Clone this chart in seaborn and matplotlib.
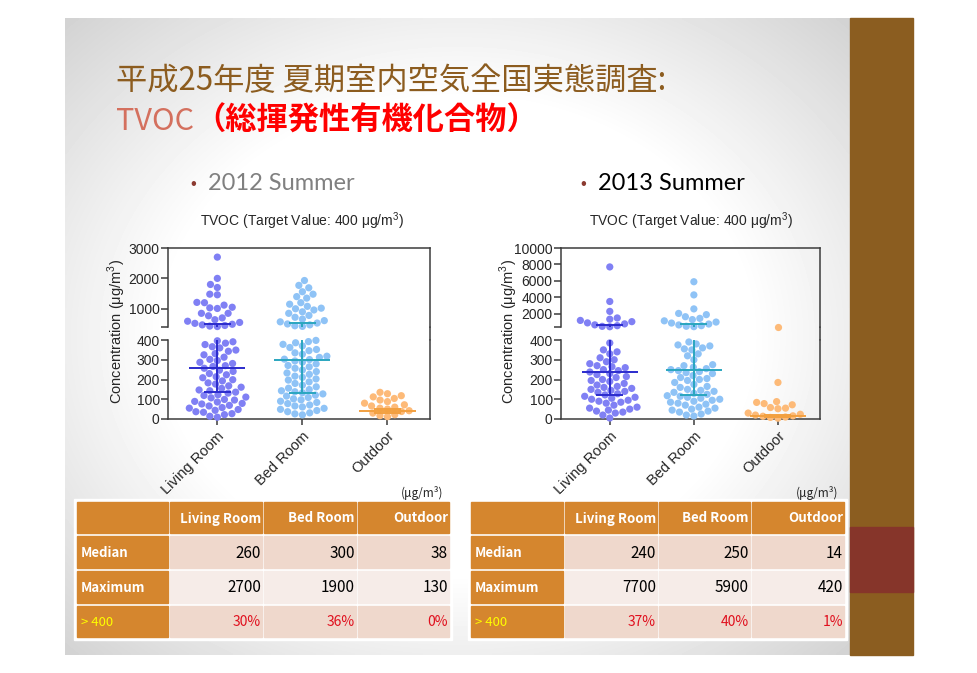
'''
Summer TVOC survey slide: swarm plots with a broken y axis and the summary tables.
'''

import numpy as np
import pandas as pd
import seaborn as sns
import matplotlib.pyplot as plt
from matplotlib.patches import Rectangle
from matplotlib.lines import Line2D

W, H = 978, 673

rooms = ['Living Room', 'Bed Room', 'Outdoor']

living_2012 = [2700, 2000, 1800, 1700, 1480, 1460, 1210, 1120, 1200, 1050, 1010, 1030, 850, 770, 850,
               700, 640, 590, 550, 520, 490, 470, 450, 430, 415,
               396, 391, 384, 377, 366, 360, 349, 343, 331, 325, 313, 302, 296, 287, 281, 270, 266,
               257, 247, 241, 230, 224, 214, 209, 199, 193, 183, 177, 168, 161, 155, 147, 143, 136,
               131, 123, 119, 111, 107, 99, 96, 89, 86, 79, 76, 69, 66, 58, 55, 48, 44, 37, 34,
               27, 22, 14, 9]
bed_2012 = [1930, 1770, 1690, 1560, 1480, 1400, 1350, 1200, 1150, 1080, 1020, 1000, 960, 900, 850,
            780, 720, 660, 610, 570, 530, 500, 470, 440, 420,
            398, 392, 386, 378, 370, 362, 352, 346, 335, 328, 318, 312, 303, 301,
            294, 288, 279, 271, 264, 257, 248, 240, 233, 226, 217, 211, 203, 197, 188, 180, 171,
            163, 156, 149, 143, 138, 133,
            127, 121, 116, 109, 102, 97, 90, 84, 78, 71, 66, 61, 54, 49, 43, 37, 31, 26, 21]
outdoor_2012 = [135, 128, 118, 112, 104, 96, 88, 80, 72, 66, 60, 55, 50, 42, 38, 30, 22, 17, 12]

# 2013 summer
living_2013 = [7700, 3500, 2300, 1500, 1350, 1200, 1050, 900, 780, 660, 560, 480, 430,
               385, 350, 340, 330, 310, 300, 290, 280, 270, 265, 260, 250, 245, 238, 230, 225, 215,
               210, 200, 195, 190, 180, 172, 165, 160, 155, 150, 145, 140, 135, 128, 122, 115, 110,
               105, 100, 95, 90, 85, 80, 70, 60, 55, 50, 45, 40, 35, 30, 20, 5]
bed_2013 = [5900, 4300, 2600, 2050, 1900, 1650, 1450, 1300, 1150, 1000, 880, 760, 650, 560, 490, 440,
            390, 380, 375, 370, 360, 355, 350, 330, 320, 300, 275, 270, 262, 255, 250, 245, 240,
            235, 230, 220, 210, 205, 200, 195, 185, 175, 165, 160, 150, 145, 140, 135, 130, 125,
            118, 115, 110, 105, 100, 95, 90, 85, 80, 75, 70, 60, 55, 50, 45, 40, 35, 25, 20, 15]
outdoor_2013 = [420, 185, 88, 84, 78, 72, 58, 55, 52, 30, 24, 20, 16, 14, 10, 8, 4]

# median with interquartile range
median_2012 = [260, 300, 38]
q1_2012 = [135, 130, 30]
q3_2012 = [500, 540, 52]
median_2013 = [240, 250, 14]
q1_2013 = [120, 120, 8]
q3_2013 = [600, 780, 22]

# summary tables
table_rows = ['Median', 'Maximum', '> 400']
table_2012 = [['260', '300', '38'], ['2700', '1900', '130'], ['30%', '36%', '0%']]
table_2013 = [['240', '250', '14'], ['7700', '5900', '420'], ['37%', '40%', '1%']]

dot_colors = {'Living Room': '#8080f4', 'Bed Room': '#8fc3f6', 'Outdoor': '#fdba78'}
line_colors = {'Living Room': '#2b2bcc', 'Bed Room': '#2aa6bf', 'Outdoor': '#f2a040'}
spine_color = '#3c3c3c'
cjk = ['Noto Sans CJK JP', 'DejaVu Sans']


def px_rect(x0, y0, x1, y1):
    return [x0 / W, 1 - y1 / H, (x1 - x0) / W, (y1 - y0) / H]


def plot_tvoc(fig, x0, x1, values, top_max, top_ticks, medians, lower_q, upper_q):
    ax_hi = fig.add_axes(px_rect(x0, 248, x1, 327))
    ax_lo = fig.add_axes(px_rect(x0, 340, x1, 419))
    df = pd.DataFrame({'room': np.repeat(rooms, [len(v) for v in values]),
                       'value': np.concatenate(values).astype(float)})
    for ax, part in [(ax_hi, df[df['value'] > 400]), (ax_lo, df[df['value'] <= 400])]:
        sns.swarmplot(data=part, x='room', y='value', hue='room', order=rooms, hue_order=rooms,
                      palette=dot_colors, size=5.2, ax=ax, legend=False, warn_thresh=1,
                      clip_on=False)
        ax.set_xlim(-0.58, 2.5)
        ax.set(xlabel='', ylabel='')
        ax.set_facecolor('none')
        for side in ['left', 'right', 'top', 'bottom']:
            ax.spines[side].set_color(spine_color)
            ax.spines[side].set_linewidth(1.1)
        ax.tick_params(axis='both', direction='out', length=5, width=1.1, color=spine_color,
                       labelsize=10, pad=1)

    ax_hi.set_ylim(400, top_max)
    ax_hi.set_yticks([400] + top_ticks, labels=[''] + [str(t) for t in top_ticks])
    ax_hi.spines['bottom'].set_visible(False)
    ax_hi.tick_params(axis='x', length=0, labelbottom=False)

    ax_lo.set_ylim(0, 400)
    ax_lo.set_yticks([0, 100, 200, 300, 400])
    ax_lo.spines['top'].set_visible(False)
    ax_lo.set_xticks(range(3), labels=rooms, rotation=45, ha='right', rotation_mode='anchor')
    ax_lo.tick_params(axis='x', labelsize=10.5, length=4, pad=3)

    # right frame runs on across the break
    fig.add_artist(Line2D([x1 / W, x1 / W], [1 - 340 / H, 1 - 327 / H],
                          color=spine_color, lw=1.1))

    for i, room in enumerate(rooms):
        c = line_colors[room]
        ax_lo.hlines(medians[i], i - 0.33, i + 0.33, color=c, lw=1.4, zorder=5)
        ax_lo.hlines(lower_q[i], i - 0.16, i + 0.16, color=c, lw=1.4, zorder=5)
        if upper_q[i] > 400:
            ax_lo.vlines(i, lower_q[i], 400, color=c, lw=1.4, zorder=5)
            ax_hi.vlines(i, 400, upper_q[i], color=c, lw=1.4, zorder=5)
            ax_hi.hlines(upper_q[i], i - 0.16, i + 0.16, color=c, lw=1.4, zorder=5)
        else:
            ax_lo.vlines(i, lower_q[i], upper_q[i], color=c, lw=1.4, zorder=5)
            ax_lo.hlines(upper_q[i], i - 0.16, i + 0.16, color=c, lw=1.4, zorder=5)
    return ax_hi, ax_lo


def draw_table(ax, col_edges, cells, unit_x):
    row_edges = [(502, 533), (536, 568), (571, 603), (606, 637)]
    ax.add_patch(Rectangle((col_edges[0][0] - 3, 499), col_edges[-1][1] - col_edges[0][0] + 6,
                           141, color='white', zorder=1))
    ax.text(unit_x, 493, '(μg/m³)', fontsize=8.5, ha='right', va='center', family=cjk, zorder=3)
    fills = ['#efd8cc', '#f6ece8', '#efd8cc']
    for r, (y0, y1) in enumerate(row_edges):
        for c, (x0, x1) in enumerate(col_edges):
            if r == 0 or c == 0:
                fc = '#d5862e'
            else:
                fc = fills[r - 1]
            ax.add_patch(Rectangle((x0, y0), x1 - x0, y1 - y0, color=fc, zorder=2))
            ym = (y0 + y1) / 2 + 1
            if r == 0 and c > 0:
                ax.text(x1 - 1, ym, rooms[c - 1], color='white', fontsize=9.5, fontweight='bold',
                        ha='right', va='center', family=cjk, zorder=3)
            elif r > 0 and c == 0:
                label = table_rows[r - 1]
                ax.text(x0 + 4, ym, label, color='#ffff00' if r == 3 else 'white', fontsize=9.5,
                        fontweight='normal' if r == 3 else 'bold', ha='left', va='center',
                        family=cjk, zorder=3)
            elif r > 0:
                ax.text(x1 - 1, ym, cells[r - 1][c - 1], color='#e0101e' if r == 3 else 'black',
                        fontsize=11 if r < 3 else 10, ha='right', va='center', family=cjk, zorder=3)


sns.set_style('ticks')
plt.rcParams['font.family'] = ['Liberation Sans', 'DejaVu Sans']
plt.rcParams['mathtext.fontset'] = 'custom'
plt.rcParams['mathtext.rm'] = 'Liberation Sans'

fig = plt.figure(figsize=(W / 100, H / 100), dpi=100)
bg = fig.add_axes([0, 0, 1, 1])
bg.axis('off')

# slide with a soft grey vignette
yy, xx = np.mgrid[-1:1:200j, -1:1:250j]
rr = np.sqrt(xx ** 2 + yy ** 2)
shade = 1 - 0.17 * np.clip((rr - 0.75) / 0.65, 0, 1)
bg.imshow(shade, cmap='gray', vmin=0, vmax=1, extent=(65, 850, 655, 18), aspect='auto',
          interpolation='bilinear', zorder=0)
bg.set_xlim(0, W)
bg.set_ylim(H, 0)
bg.add_patch(Rectangle((850, 18), 63, 637, color='#8b5d20', zorder=1))
bg.add_patch(Rectangle((850, 527), 63, 65, color='#86352a', zorder=1))

bg.text(116, 81, '平成25年度 夏期室内空気全国実態調査:', fontsize=22.5, color='#8c5c1f',
        ha='left', va='center', family=cjk)
bg.text(116, 121, 'TVOC', fontsize=22, color='#d4705e', ha='left', va='center', family=cjk)
bg.text(194, 121, '（総揮発性有機化合物）', fontsize=22.5, color='#ff0000', fontweight='bold',
        ha='left', va='center', family=cjk)

bg.text(190, 184, '•', fontsize=12, color='#8b3a30', ha='left', va='center')
bg.text(208, 184, '2012 Summer', fontsize=17, color='#808080', ha='left', va='center',
        family=['Lato', 'DejaVu Sans'])
bg.text(580, 184, '•', fontsize=12, color='#8b3a30', ha='left', va='center')
bg.text(598, 184, '2013 Summer', fontsize=17, color='black', ha='left', va='center',
        family=['Lato', 'DejaVu Sans'])

title = r'TVOC (Target Value: 400 μg/m$^3$)'
ylabel = r'Concentration (μg/m$^3$)'
bg.text(302, 221, title, fontsize=10, ha='center', va='center')
bg.text(691, 221, title, fontsize=10, ha='center', va='center')
bg.text(117, 331, ylabel, fontsize=10.5, rotation=90, ha='center', va='center')
bg.text(509, 331, ylabel, fontsize=10.5, rotation=90, ha='center', va='center')

plot_tvoc(fig, 168, 430, [living_2012, bed_2012, outdoor_2012], 3000, [1000, 2000, 3000],
          median_2012, q1_2012, q3_2012)
plot_tvoc(fig, 561, 820, [living_2013, bed_2013, outdoor_2013], 10000,
          [2000, 4000, 6000, 8000, 10000], median_2013, q1_2013, q3_2013)

draw_table(bg, [(77, 168), (170, 262), (264, 356), (358, 449)], table_2012, 443)
draw_table(bg, [(471, 563), (565, 657), (659, 750), (752, 844)], table_2013, 838)

fig.savefig('out.png', dpi=100)
